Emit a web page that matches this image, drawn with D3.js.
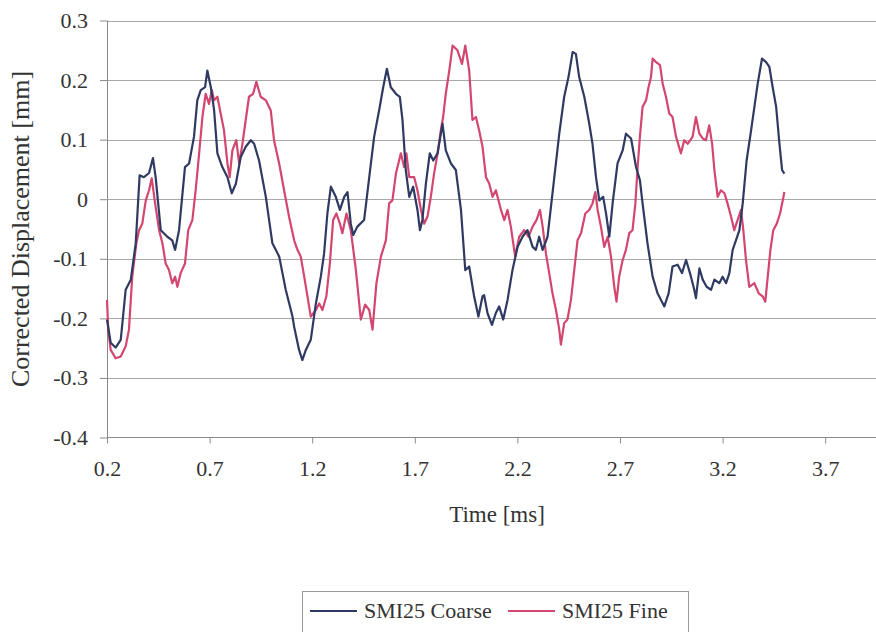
<!DOCTYPE html>
<html>
	<head>
		<meta charset="utf-8"/>
		<script type="text/javascript" src="https://cdn.jsdelivr.net/npm/d3@7/dist/d3.min.js"></script>
		<style>
			body {
				margin:0;
				background:#fff;
			}
			svg text {
				font-family:"Liberation Serif", "Times New Roman", serif;
				fill:#333;
			}
			.axis text {
				font-size:22px;
			}
			.axis .domain {
				display:none;
			}
			.axis line {
				stroke:#8a8a8a;
			}
		</style>
	</head>
	<body>
		<script>
			// values
			var timeCoarse = [0.200,0.218,0.242,0.267,0.291,0.316,0.340,0.359,0.380,0.405,0.424,0.437,0.462,0.494,0.518,0.532,0.551,0.580,0.600,0.624,0.640,0.657,0.678,0.689,0.706,0.722,0.738,0.762,0.787,0.808,0.828,0.852,0.876,0.901,0.917,0.941,0.974,1.006,1.039,1.071,1.104,1.112,1.136,1.152,1.169,1.193,1.218,1.242,1.258,1.274,1.291,1.315,1.335,1.356,1.372,1.388,1.400,1.420,1.453,1.478,1.502,1.526,1.546,1.564,1.583,1.608,1.627,1.640,1.656,1.673,1.692,1.713,1.725,1.737,1.754,1.773,1.790,1.811,1.835,1.851,1.876,1.900,1.925,1.946,1.965,1.989,2.010,2.030,2.038,2.054,2.076,2.095,2.111,2.131,2.152,2.176,2.201,2.225,2.249,2.274,2.290,2.306,2.323,2.347,2.371,2.404,2.428,2.449,2.469,2.485,2.501,2.526,2.550,2.566,2.583,2.599,2.618,2.632,2.648,2.664,2.688,2.713,2.729,2.754,2.778,2.797,2.810,2.834,2.859,2.883,2.916,2.937,2.956,2.981,3.002,3.022,3.041,3.062,3.070,3.087,3.103,3.122,3.144,3.160,3.184,3.200,3.217,3.233,3.249,3.265,3.282,3.298,3.317,3.339,3.355,3.371,3.392,3.412,3.428,3.444,3.461,3.477,3.490,3.501];
			var dispCoarse = [-0.202,-0.241,-0.249,-0.236,-0.152,-0.135,-0.074,0.040,0.037,0.044,0.069,0.037,-0.052,-0.063,-0.069,-0.085,-0.052,0.054,0.060,0.105,0.166,0.183,0.188,0.216,0.188,0.149,0.077,0.054,0.037,0.010,0.026,0.071,0.088,0.099,0.093,0.065,0.004,-0.074,-0.096,-0.152,-0.197,-0.214,-0.253,-0.270,-0.253,-0.236,-0.175,-0.130,-0.091,-0.024,0.021,0.004,-0.018,0.004,0.012,-0.041,-0.060,-0.046,-0.035,0.037,0.105,0.149,0.188,0.219,0.188,0.177,0.172,0.133,0.049,0.004,0.021,-0.018,-0.052,-0.035,0.026,0.077,0.065,0.077,0.127,0.082,0.060,0.049,-0.018,-0.119,-0.113,-0.163,-0.197,-0.163,-0.161,-0.191,-0.211,-0.191,-0.180,-0.202,-0.169,-0.119,-0.080,-0.063,-0.052,-0.080,-0.085,-0.063,-0.085,-0.063,0.010,0.110,0.172,0.205,0.247,0.244,0.205,0.172,0.127,0.093,0.037,-0.002,0.004,-0.024,-0.063,-0.007,0.060,0.082,0.110,0.102,0.054,0.032,-0.007,-0.074,-0.130,-0.158,-0.180,-0.158,-0.113,-0.110,-0.124,-0.102,-0.124,-0.152,-0.166,-0.116,-0.135,-0.147,-0.152,-0.135,-0.141,-0.130,-0.141,-0.124,-0.085,-0.069,-0.052,-0.007,0.065,0.116,0.155,0.194,0.236,0.230,0.222,0.188,0.155,0.093,0.049,0.043];
			var timeFine = [0.200,0.206,0.218,0.242,0.267,0.291,0.307,0.323,0.343,0.356,0.372,0.389,0.405,0.418,0.437,0.454,0.470,0.486,0.502,0.518,0.532,0.543,0.559,0.580,0.596,0.616,0.632,0.649,0.665,0.681,0.697,0.711,0.722,0.738,0.754,0.770,0.787,0.798,0.811,0.830,0.844,0.860,0.876,0.892,0.912,0.928,0.949,0.974,0.998,1.014,1.039,1.063,1.087,1.112,1.128,1.144,1.161,1.177,1.193,1.218,1.234,1.250,1.269,1.286,1.302,1.318,1.335,1.347,1.367,1.388,1.413,1.437,1.458,1.478,1.494,1.513,1.535,1.559,1.575,1.591,1.608,1.632,1.648,1.659,1.673,1.697,1.713,1.730,1.746,1.762,1.778,1.794,1.811,1.827,1.838,1.851,1.868,1.884,1.908,1.930,1.946,1.965,1.981,1.998,2.014,2.030,2.047,2.063,2.079,2.095,2.120,2.136,2.152,2.168,2.189,2.209,2.233,2.254,2.274,2.293,2.310,2.323,2.339,2.355,2.371,2.388,2.404,2.412,2.428,2.444,2.461,2.477,2.493,2.510,2.531,2.550,2.566,2.580,2.591,2.607,2.623,2.640,2.656,2.672,2.683,2.696,2.713,2.729,2.745,2.761,2.775,2.786,2.797,2.810,2.827,2.839,2.851,2.859,2.876,2.895,2.908,2.924,2.940,2.956,2.973,2.997,3.013,3.030,3.054,3.070,3.087,3.103,3.119,3.135,3.149,3.160,3.176,3.192,3.209,3.224,3.241,3.257,3.273,3.290,3.301,3.314,3.330,3.355,3.376,3.395,3.408,3.420,3.433,3.447,3.464,3.480,3.493,3.501];
			var dispFine = [-0.169,-0.219,-0.253,-0.267,-0.264,-0.247,-0.219,-0.130,-0.074,-0.052,-0.041,-0.002,0.015,0.035,-0.013,-0.052,-0.074,-0.108,-0.119,-0.141,-0.130,-0.147,-0.124,-0.108,-0.052,-0.035,0.015,0.077,0.138,0.177,0.160,0.183,0.166,0.172,0.144,0.116,0.060,0.037,0.082,0.099,0.060,0.093,0.133,0.172,0.177,0.197,0.172,0.166,0.149,0.099,0.060,0.015,-0.029,-0.069,-0.085,-0.096,-0.130,-0.163,-0.197,-0.186,-0.175,-0.186,-0.163,-0.108,-0.035,-0.024,-0.041,-0.057,-0.024,-0.052,-0.119,-0.202,-0.177,-0.186,-0.219,-0.141,-0.096,-0.069,-0.007,-0.002,0.043,0.077,0.054,0.077,0.037,0.037,0.015,-0.018,-0.041,-0.029,0.004,0.043,0.077,0.116,0.138,0.177,0.216,0.258,0.250,0.227,0.258,0.216,0.133,0.138,0.115,0.088,0.037,0.026,0.004,0.015,-0.018,-0.035,-0.018,-0.046,-0.096,-0.063,-0.052,-0.063,-0.046,-0.035,-0.018,-0.046,-0.091,-0.124,-0.158,-0.186,-0.219,-0.244,-0.208,-0.202,-0.169,-0.119,-0.069,-0.057,-0.024,-0.018,-0.007,0.012,-0.018,-0.046,-0.080,-0.063,-0.096,-0.147,-0.172,-0.130,-0.102,-0.085,-0.057,-0.052,-0.007,0.054,0.105,0.155,0.166,0.188,0.205,0.236,0.230,0.225,0.194,0.172,0.144,0.138,0.105,0.077,0.099,0.093,0.105,0.138,0.110,0.102,0.099,0.124,0.093,0.049,0.004,0.015,0.010,-0.007,-0.029,-0.052,-0.035,-0.018,-0.052,-0.102,-0.147,-0.141,-0.158,-0.163,-0.172,-0.130,-0.085,-0.052,-0.041,-0.024,-0.002,0.012];
			var xTicks = [0.2, 0.7, 1.2, 1.7, 2.2, 2.7, 3.2, 3.7];
			var yTicks = [0.3, 0.2, 0.1, 0, -0.1, -0.2, -0.3, -0.4];
			var seriesNames = ["SMI25 Coarse", "SMI25 Fine"];
			var seriesColors = ["#2f3a62", "#d3466f"];

			var width = 876, height = 632;
			var plotLeft = 107, plotTop = 20.5, plotBottom = 437.5;

			var svg = d3.select("body").append("svg")
				.attr("width", width)
				.attr("height", height);

			// axis runs on to 4.2 ms, past the right edge of the picture
			var x = d3.scaleLinear().domain([0.2, 4.2]).range([plotLeft, plotLeft + 8 * 102.6]);
			var y = d3.scaleLinear().domain([-0.4, 0.3]).range([plotBottom, plotTop]);

			function fmt(d) {
				return d === 0 ? "0" : d.toFixed(1);
			}

			// horizontal grid
			svg.append("g").selectAll("line")
				.data(yTicks.filter(function(d) { return d > -0.4; }))
				.enter().append("line")
				.attr("x1", plotLeft)
				.attr("x2", width)
				.attr("y1", function(d) { return Math.round(y(d)) + 0.5; })
				.attr("y2", function(d) { return Math.round(y(d)) + 0.5; })
				.attr("stroke", "#a8a8a8")
				.attr("stroke-width", 1);

			svg.append("g")
				.attr("class", "axis")
				.attr("transform", "translate(" + plotLeft + ",0)")
				.call(d3.axisLeft(y).tickValues(yTicks).tickSize(7).tickPadding(12).tickFormat(fmt));

			svg.append("g")
				.attr("class", "axis")
				.attr("transform", "translate(0," + plotBottom + ")")
				.call(d3.axisBottom(x).tickValues(xTicks).tickSize(6).tickPadding(17).tickFormat(fmt));

			// axis lines
			svg.append("line")
				.attr("x1", plotLeft + 0.5).attr("x2", plotLeft + 0.5)
				.attr("y1", plotTop).attr("y2", plotBottom)
				.attr("stroke", "#8a8a8a");
			svg.append("line")
				.attr("x1", plotLeft).attr("x2", width)
				.attr("y1", plotBottom).attr("y2", plotBottom)
				.attr("stroke", "#8a8a8a");

			var line = d3.line()
				.x(function(d) { return x(d[0]); })
				.y(function(d) { return y(d[1]); });

			var series = [
				d3.zip(timeCoarse, dispCoarse),
				d3.zip(timeFine, dispFine)
			];

			// fine drawn first, coarse on top
			[1, 0].forEach(function(i) {
				svg.append("path")
					.datum(series[i])
					.attr("d", line)
					.attr("fill", "none")
					.attr("stroke", seriesColors[i])
					.attr("stroke-width", 2.2)
					.attr("stroke-linejoin", "round");
			});

			svg.append("text")
				.attr("transform", "translate(20," + ((plotTop + plotBottom) / 2) + ") rotate(-90)")
				.attr("text-anchor", "middle")
				.attr("dy", "0.35em")
				.style("font-size", "26px")
				.text("Corrected Displacement [mm]");

			svg.append("text")
				.attr("x", 497)
				.attr("y", 522)
				.attr("text-anchor", "middle")
				.style("font-size", "23px")
				.text("Time [ms]");

			// legend
			var legend = svg.append("g");
			legend.append("rect")
				.attr("x", 302.5)
				.attr("y", 591.5)
				.attr("width", 386)
				.attr("height", 60)
				.attr("fill", "#fff")
				.attr("stroke", "#9a9a9a");
			var legendX = [310, 508];
			seriesNames.forEach(function(name, i) {
				legend.append("line")
					.attr("x1", legendX[i])
					.attr("x2", legendX[i] + 47)
					.attr("y1", 611)
					.attr("y2", 611)
					.attr("stroke", seriesColors[i])
					.attr("stroke-width", 2);
				legend.append("text")
					.attr("x", legendX[i] + 54)
					.attr("y", 618)
					.style("font-size", "22px")
					.text(name);
			});
		</script>
	</body>
</html>
